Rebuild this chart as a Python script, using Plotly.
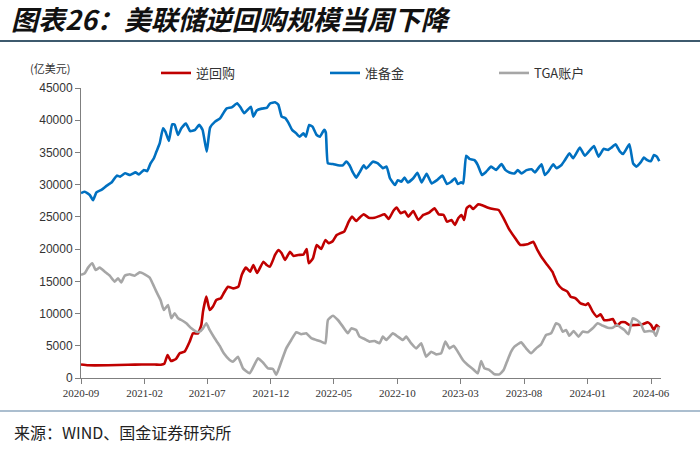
import plotly.graph_objects as go

# ---------------- data ----------------
rrp_dates = ["2020-09-01","2020-09-18","2020-11-05","2020-12-23","2021-01-25","2021-02-25","2021-03-12","2021-03-20",
 "2021-03-28","2021-04-05","2021-04-17","2021-04-26","2021-05-08","2021-05-20","2021-05-28","2021-06-09","2021-06-17",
 "2021-06-21","2021-06-29","2021-07-07","2021-07-15","2021-07-23","2021-08-03","2021-08-11","2021-08-20","2021-09-02",
 "2021-09-14","2021-09-22","2021-10-02","2021-10-12","2021-10-20","2021-10-29","2021-11-13","2021-11-21","2021-11-29",
 "2021-12-11","2021-12-19","2021-12-27","2022-01-04","2022-01-16","2022-01-24","2022-02-05","2022-02-17","2022-02-25",
 "2022-03-02","2022-03-12","2022-03-21","2022-04-01","2022-04-11","2022-04-19","2022-04-29","2022-05-08","2022-05-16",
 "2022-05-26","2022-06-06","2022-06-14","2022-06-24","2022-07-02","2022-07-12","2022-07-24","2022-08-07","2022-08-19",
 "2022-08-31","2022-09-10","2022-09-21","2022-09-29","2022-10-09","2022-10-19","2022-10-27","2022-11-08","2022-11-20",
 "2022-12-02","2022-12-16","2022-12-29","2023-01-08","2023-01-20","2023-01-28","2023-02-08","2023-02-16","2023-02-24",
 "2023-03-04","2023-03-10","2023-03-16","2023-03-24","2023-04-01","2023-04-13","2023-04-25","2023-05-07","2023-05-19",
 "2023-06-01","2023-06-13","2023-06-25","2023-07-11","2023-07-23","2023-08-09","2023-08-23","2023-09-02","2023-09-14",
 "2023-09-26","2023-10-08","2023-10-20","2023-11-01","2023-11-13","2023-11-21","2023-12-03","2023-12-15","2023-12-27",
 "2024-01-02","2024-01-13","2024-01-23","2024-02-01","2024-02-09","2024-02-20","2024-03-01","2024-03-11","2024-03-21",
 "2024-03-31","2024-04-10","2024-04-26","2024-05-12","2024-05-24","2024-06-01","2024-06-08","2024-06-14","2024-06-21"]
rrp_values = [2100,1970,1970,2050,2100,2100,2050,2200,
 3570,2640,2950,3830,4100,5640,6930,6930,8230,
 10300,12620,10550,11100,12100,12380,13300,14170,13900,
 14170,16000,17130,16500,17540,16300,18050,17540,17280,
 19090,19870,19350,18310,19600,18950,19090,19150,20020,
 17800,18560,20640,20020,21420,20900,21260,22190,22450,
 22710,24260,25040,24360,24880,25400,24880,24880,25140,
 25400,24670,25920,26430,25560,25820,25040,25920,24520,
 25300,25660,26330,25400,25300,24260,24520,23750,24780,
 25300,24520,26330,26740,26220,26950,26740,26430,26220,
 26070,24780,23230,21680,20640,20740,21130,19870,18570,
 17540,16500,14690,13820,13400,12620,12360,11590,11330,
 11590,10300,9520,9880,9000,9000,9150,8120,8640,
 8640,8230,8230,8330,8640,8230,7450,8230,7800]

res_dates = ["2020-09-01","2020-09-10","2020-09-22","2020-09-30","2020-10-08","2020-10-20","2020-11-02","2020-11-14",
 "2020-11-26","2020-12-04","2020-12-16","2020-12-28","2021-01-10","2021-01-18","2021-01-30","2021-02-07","2021-02-15",
 "2021-02-23","2021-03-01","2021-03-09","2021-03-17","2021-03-23","2021-03-31","2021-04-08","2021-04-14","2021-04-22",
 "2021-04-30","2021-05-11","2021-05-21","2021-06-02","2021-06-12","2021-06-20","2021-06-30","2021-07-08","2021-07-20",
 "2021-08-01","2021-08-11","2021-08-17","2021-08-29","2021-09-11","2021-09-19","2021-09-28","2021-10-06","2021-10-14",
 "2021-10-20","2021-10-28","2021-11-09","2021-11-21","2021-11-29","2021-12-11","2021-12-19","2021-12-27","2022-01-05",
 "2022-01-13","2022-01-21","2022-01-31","2022-02-08","2022-02-17","2022-02-23","2022-03-03","2022-03-11","2022-03-21",
 "2022-03-29","2022-04-08","2022-04-12","2022-04-17","2022-04-29","2022-05-11","2022-05-23","2022-05-31","2022-06-08",
 "2022-06-16","2022-06-24","2022-07-02","2022-07-12","2022-07-18","2022-08-03","2022-08-15","2022-08-27","2022-09-05",
 "2022-09-13","2022-09-25","2022-10-02","2022-10-10","2022-10-18","2022-10-26","2022-11-08","2022-11-18","2022-11-28",
 "2022-12-10","2022-12-22","2023-01-04","2023-01-17","2023-01-28","2023-02-07","2023-02-16","2023-02-23","2023-03-03",
 "2023-03-08","2023-03-15","2023-03-23","2023-04-04","2023-04-12","2023-04-22","2023-05-02","2023-05-14","2023-05-26",
 "2023-06-08","2023-06-17","2023-06-27","2023-07-09","2023-07-17","2023-07-26","2023-08-07","2023-08-19","2023-08-27",
 "2023-09-12","2023-09-20","2023-09-28","2023-10-10","2023-10-18","2023-10-30","2023-11-07","2023-11-18","2023-11-27",
 "2023-12-13","2023-12-25","2024-01-07","2024-01-16","2024-01-27","2024-02-08","2024-02-19","2024-02-27","2024-03-08",
 "2024-03-18","2024-03-26","2024-04-10","2024-04-19","2024-04-27","2024-05-07","2024-05-15","2024-05-23","2024-06-01",
 "2024-06-08","2024-06-15","2024-06-21"]
res_values = [28700,28900,28400,27600,28800,29200,29850,30370,
 31400,31250,31760,31500,31900,31600,32280,32100,33300,
 34100,35100,36400,38750,38200,36800,39370,39300,37700,
 38750,39500,38300,38500,39300,38500,35100,38850,39780,
 40300,41330,41850,42000,42630,42000,41080,41600,42100,
 40560,41500,41800,41900,42600,42780,42400,40560,40300,
 39500,38500,37960,37450,37960,37450,39270,39000,37700,
 37450,38500,38100,33300,33200,33000,33000,33570,33000,
 31900,31100,31900,33000,32500,33570,33300,32550,32800,
 31000,29950,30700,30450,31100,30350,31000,31860,30350,
 31700,30200,30700,31400,30100,30450,31000,30100,30350,
 30200,34500,34000,33800,33050,31500,32000,32800,32300,
 33200,32300,31900,31750,32250,31750,32250,32400,31900,
 33150,31500,32000,33150,32550,33050,33800,34870,34100,
 35750,34500,35400,36000,34350,35550,35400,35750,36270,
 35150,34750,36270,33300,32800,33450,34200,33800,33650,
 34600,34350,33650]

tga_dates = ["2020-09-01","2020-09-10","2020-09-18","2020-09-28","2020-10-06","2020-10-16","2020-10-28","2020-11-09",
 "2020-11-21","2020-11-29","2020-12-07","2020-12-15","2020-12-27","2021-01-08","2021-01-20","2021-02-01","2021-02-13",
 "2021-02-21","2021-03-01","2021-03-11","2021-03-19","2021-03-29","2021-04-06","2021-04-14","2021-04-22","2021-04-30",
 "2021-05-12","2021-05-24","2021-06-05","2021-06-13","2021-06-21","2021-06-29","2021-07-07","2021-07-19","2021-07-31",
 "2021-08-10","2021-08-24","2021-09-01","2021-09-13","2021-09-25","2021-10-11","2021-10-31","2021-11-12","2021-11-24",
 "2021-12-06","2021-12-14","2021-12-26","2022-01-07","2022-01-19","2022-01-31","2022-02-12","2022-02-24","2022-03-08",
 "2022-03-20","2022-04-01","2022-04-11","2022-04-17","2022-04-29","2022-05-11","2022-05-23","2022-06-04","2022-06-12",
 "2022-06-24","2022-07-02","2022-07-14","2022-07-26","2022-08-07","2022-08-19","2022-08-27","2022-09-04","2022-09-20",
 "2022-10-02","2022-10-14","2022-10-22","2022-11-03","2022-11-15","2022-11-27","2022-12-09","2022-12-21","2023-01-02",
 "2023-01-14","2023-01-24","2023-02-03","2023-02-13","2023-02-23","2023-03-07","2023-03-19","2023-03-31","2023-04-12",
 "2023-04-20","2023-04-28","2023-05-10","2023-05-22","2023-06-03","2023-06-13","2023-06-21","2023-07-01","2023-07-09",
 "2023-07-25","2023-08-06","2023-08-18","2023-08-30","2023-09-11","2023-09-23","2023-10-05","2023-10-17","2023-10-25",
 "2023-11-02","2023-11-10","2023-11-18","2023-11-28","2023-12-10","2023-12-20","2024-01-01","2024-01-13","2024-01-25",
 "2024-02-06","2024-02-18","2024-03-01","2024-03-11","2024-03-21","2024-03-29","2024-04-08","2024-04-18","2024-04-28",
 "2024-05-08","2024-05-16","2024-05-28","2024-06-07","2024-06-13","2024-06-20"]
tga_values = [16000,16250,17130,17800,16760,17130,16500,15880,
 14950,15460,14840,15880,16090,15880,16400,16090,15570,
 14530,13400,12100,10550,11330,9260,10050,9260,9000,
 8490,7710,7190,7190,7710,8490,7450,6160,5000,
 3830,2800,2530,3310,1500,730,3050,2400,1500,
 1400,500,2530,4600,5900,7090,6800,6950,6200,
 5900,5640,5380,9000,9670,9000,7970,6950,7700,
 7450,6420,6050,5640,5740,5380,6420,5900,6930,
 6420,5900,6420,5380,4600,5380,3310,4080,3670,
 3830,5640,4600,5000,4080,2800,2020,1400,730,
 2640,1500,1240,570,570,1240,2530,4080,4860,
 5530,4600,3830,4600,5230,6680,6930,8490,8230,
 7190,7450,6550,7300,6420,7190,7090,7710,8490,
 8120,7800,7800,8230,7800,7450,6800,9260,9000,
 8330,7190,7300,7190,6550,7970]

series_names = ["逆回购", "准备金", "TGA账户"]
series_colors = ["#C00000", "#0070C0", "#A6A6A6"]
y_ticks = [0, 5000, 10000, 15000, 20000, 25000, 30000, 35000, 40000, 45000]

title_text = "图表26：美联储逆回购规模当周下降"
unit_text = "(亿美元)"
source_text = "来源：WIND、国金证券研究所"

# ---------------- figure ----------------
W, H = 700, 449
L, R, T, B = 81, 39, 88, 71
pw, ph = W - L - R, H - T - B

def px(xp):
    return (xp - L) / pw

def py(yp):
    return (H - B - yp) / ph

fig = go.Figure()
for d, v, n, c in zip([rrp_dates, res_dates, tga_dates],
                      [rrp_values, res_values, tga_values],
                      series_names, series_colors):
    fig.add_trace(go.Scatter(x=d, y=v, name=n, mode="lines",
                             line=dict(color=c, width=2.6, shape="spline", smoothing=0.4)))

cjk = "Noto Sans CJK SC"
fig.update_layout(
    width=W, height=H,
    margin=dict(l=L, r=R, t=T, b=B, autoexpand=False),
    plot_bgcolor="white", paper_bgcolor="white",
    showlegend=True,
    legend=dict(orientation="h", x=px(156), y=py(58), xanchor="left", yanchor="top",
                font=dict(family=cjk, size=13, color="#333333"),
                entrywidth=124, bgcolor="rgba(0,0,0,0)", tracegroupgap=0),
    title=dict(text="<b><i>" + title_text + "</i></b>", x=11 / W, xref="container",
               y=1 - 21 / H, yref="container", xanchor="left", yanchor="middle",
               font=dict(family=cjk, size=27, color="#111111")),
    xaxis=dict(type="date", range=["2020-09-01", "2024-06-25"], automargin=False,
               tick0="2020-09-01", dtick="M5", tickformat="%Y-%m",
               showline=True, linecolor="#7f7f7f", linewidth=1,
               ticks="outside", ticklen=5, tickcolor="#7f7f7f",
               showgrid=False, zeroline=False,
               tickfont=dict(family="Liberation Sans Narrow", size=11, color="#333333")),
    yaxis=dict(range=[0, 45000], tickvals=y_ticks, tickformat="d", automargin=False,
               showline=True, linecolor="#7f7f7f", linewidth=1,
               ticks="outside", ticklen=5, tickcolor="#7f7f7f",
               showgrid=False, zeroline=False,
               tickfont=dict(family="Liberation Sans", size=12, color="#333333")),
)

fig.add_annotation(text=unit_text, xref="paper", yref="paper", x=px(28), y=py(68),
                   xanchor="left", yanchor="middle", showarrow=False,
                   font=dict(family=cjk, size=11, color="#333333"))
fig.add_annotation(text=source_text, xref="paper", yref="paper", x=px(12), y=py(432),
                   xanchor="left", yanchor="middle", showarrow=False,
                   font=dict(family=cjk, size=16, color="#222222"))
fig.add_shape(type="line", xref="paper", yref="paper", x0=px(0), x1=px(W), y0=py(41), y1=py(41),
              line=dict(color="#3d5a6e", width=2))
fig.add_shape(type="line", xref="paper", yref="paper", x0=px(0), x1=px(W), y0=py(411), y1=py(411),
              line=dict(color="#8fa9bf", width=1.5))

fig.write_html("out.html", config={"displayModeBar": False},
               post_script="document.body.style.margin='0';document.body.style.padding='0';")
